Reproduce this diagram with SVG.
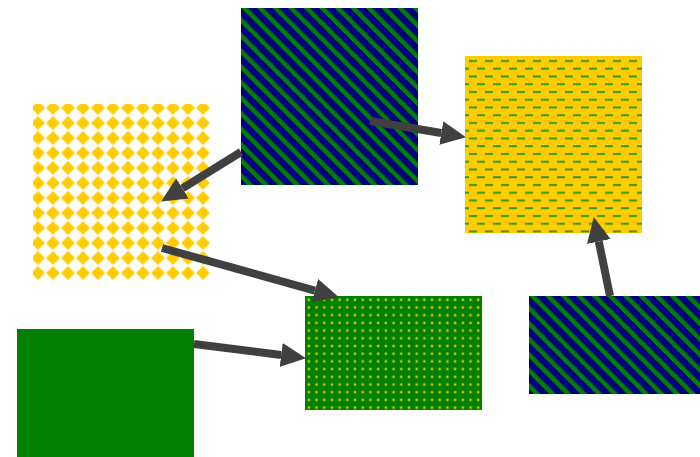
<svg xmlns="http://www.w3.org/2000/svg" width="700" height="457" viewBox="0 0 700 457">
<style>
.conn line{stroke:#404040;stroke-width:8;fill:none}
</style>
<defs>
<pattern id="diamonds" patternUnits="userSpaceOnUse" width="15" height="15" x="30.5" y="100.5">
<rect width="15" height="15" fill="#ffffff"/>
<path d="M7.5,0.6 L14.4,7.5 L7.5,14.4 L0.6,7.5 Z" fill="#ffcc00"/>
</pattern>
<pattern id="stripes" patternUnits="userSpaceOnUse" width="11" height="11" patternTransform="rotate(-45)">
<rect width="11" height="11" fill="#000080"/>
<rect width="4.5" height="11" fill="#008000"/>
</pattern>
<pattern id="dashes" patternUnits="userSpaceOnUse" width="16" height="15.5" x="465" y="56">
<rect width="16" height="15.5" fill="#ffcc00"/>
<rect x="4" y="4" width="8" height="2" fill="#33991a"/>
<rect x="-4" y="11.75" width="8" height="2" fill="#33991a"/>
<rect x="12" y="11.75" width="8" height="2" fill="#33991a"/>
</pattern>
<pattern id="dots" patternUnits="userSpaceOnUse" width="7.7" height="7.7" x="305" y="296">
<rect width="7.7" height="7.7" fill="#008000"/>
<circle cx="3.85" cy="3.85" r="1.4" fill="#c8c800"/>
</pattern>
<marker id="head" markerUnits="userSpaceOnUse" markerWidth="26" markerHeight="26" refX="0" refY="12" orient="auto" viewBox="0 0 26 24">
<path d="M0,0 L25,12 L0,24 Z" fill="#404040"/>
</marker>
</defs>
<g id="node1"><rect x="33" y="104" width="177" height="176" fill="url(#diamonds)"/></g>
<g id="node2"><rect x="241" y="8" width="177" height="177" fill="url(#stripes)"/></g>
<g id="node3"><rect x="465" y="56" width="177" height="177" fill="url(#dashes)"/></g>
<g id="node4"><rect x="305" y="296" width="177" height="114" fill="url(#dots)"/></g>
<g id="node5"><rect x="529" y="296" width="177" height="98" fill="url(#stripes)"/></g>
<g id="node6"><rect x="17" y="329" width="177" height="128" fill="#008000"/></g>
<g class="conn" id="connectors">
<line x1="241" y1="152" x2="182.4" y2="188.4" marker-end="url(#head)"/>
<line x1="370" y1="121" x2="441.3" y2="133" marker-end="url(#head)"/>
<line x1="162" y1="248" x2="314.9" y2="290.6" marker-end="url(#head)"/>
<line x1="194" y1="344" x2="281.2" y2="355" marker-end="url(#head)"/>
<line x1="610" y1="296" x2="598.8" y2="241.5" marker-end="url(#head)"/>
</g>
</svg>
